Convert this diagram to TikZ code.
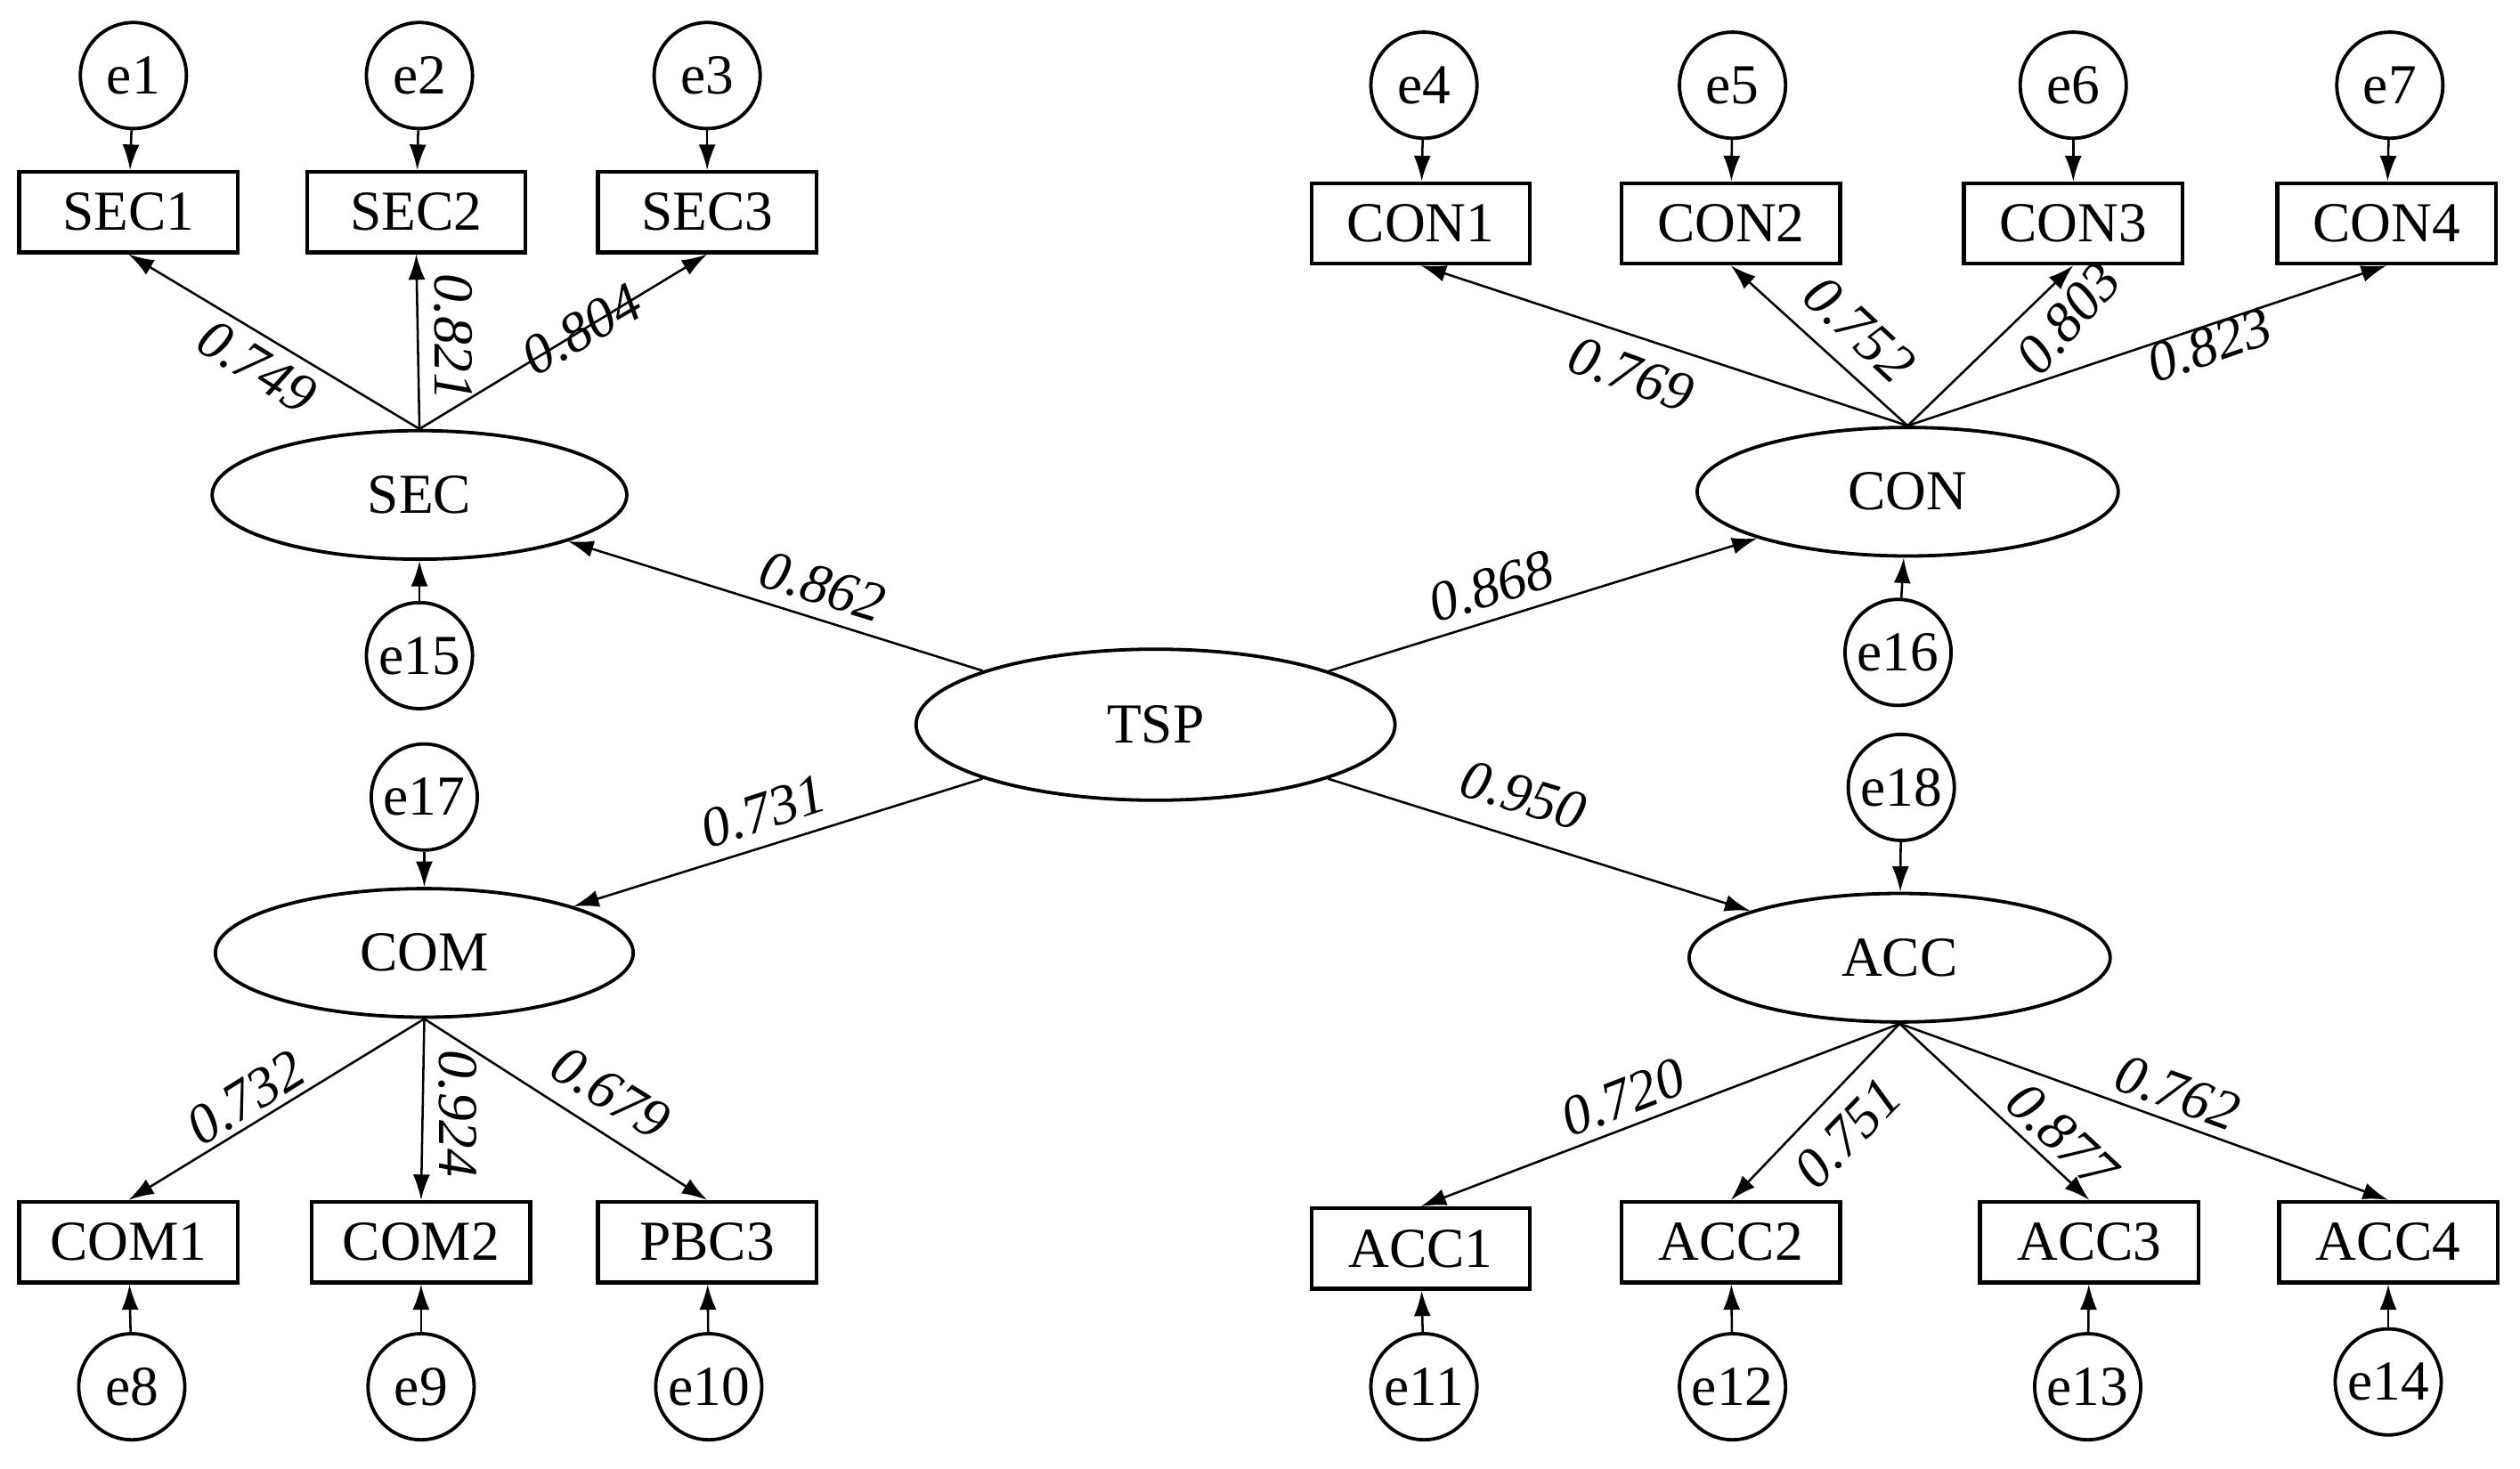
\documentclass[tikz,border=0pt]{standalone}
\usepackage{fontspec}
\setmainfont{Liberation Serif}
\usetikzlibrary{shapes.geometric,arrows.meta}
\begin{document}
\begin{tikzpicture}[x=0.02cm,y=-0.02cm,
  every node/.style={font=\fontsize{20}{24}\selectfont},
  err/.style={circle,draw,line width=1.2pt,minimum size=66*0.02cm,inner sep=0},
  obs/.style={rectangle,draw,line width=1.4pt,minimum width=136*0.02cm,minimum height=50*0.02cm,inner sep=0},
  lat/.style={ellipse,draw,line width=1.2pt,minimum width=258*0.02cm,minimum height=80*0.02cm,inner sep=0},
  arr/.style={-{Latex[length=9pt,width=6pt]},line width=0.8pt},
  lab/.style={font=\fontsize{20}{24}\selectfont\itshape,inner sep=1pt}]
\useasboundingbox (0,0) rectangle (1568,914);
% latents
\node[lat] (SEC) at (261,308) {SEC};
\node[lat,minimum width=262*0.02cm] (CON) at (1187,306) {CON};
\node[lat,minimum width=298*0.02cm,minimum height=94*0.02cm] (TSP) at (719,451) {TSP};
\node[lat,minimum width=260*0.02cm] (COM) at (264,593) {COM};
\node[lat,minimum width=262*0.02cm] (ACC) at (1182,596) {ACC};
% observed
\node[obs] (SEC1) at (80,132) {SEC1};
\node[obs] (SEC2) at (259,132) {SEC2};
\node[obs] (SEC3) at (440,132) {SEC3};
\node[obs] (CON1) at (884,139) {CON1};
\node[obs] (CON2) at (1077,139) {CON2};
\node[obs] (CON3) at (1290,139) {CON3};
\node[obs] (CON4) at (1485,139) {CON4};
\node[obs] (COM1) at (80,773) {COM1};
\node[obs] (COM2) at (262,773) {COM2};
\node[obs] (PBC3) at (440,773) {PBC3};
\node[obs] (ACC1) at (884,777) {ACC1};
\node[obs] (ACC2) at (1077,773) {ACC2};
\node[obs] (ACC3) at (1300,773) {ACC3};
\node[obs] (ACC4) at (1486,773) {ACC4};
% errors
\foreach \n/\x/\y in {e1/83/47,e2/261/47,e3/440/47,e4/886/53,e5/1078/53,e6/1290/53,e7/1487/53,
  e15/261/408,e16/1181/406,e17/264/496,e18/1183/490,
  e8/82/863,e9/262/863,e10/441/863,e11/886/863,e12/1078/863,e13/1299/863,e14/1486/860}
  \node[err] (\n) at (\x,\y) {\n};
% error arrows
\foreach \a/\b in {e1/SEC1,e2/SEC2,e3/SEC3,e4/CON1,e5/CON2,e6/CON3,e7/CON4,e15/SEC,e16/CON,e17/COM,e18/ACC,
  e8/COM1,e9/COM2,e10/PBC3,e11/ACC1,e12/ACC2,e13/ACC3,e14/ACC4}
  \draw[arr] (\a) -- (\b);
% loadings
\foreach \b in {SEC1,SEC2,SEC3} \draw[arr] (SEC.north) -- (\b.south);
\foreach \b in {CON1,CON2,CON3,CON4} \draw[arr] (CON.north) -- (\b.south);
\foreach \b in {COM1,COM2,PBC3} \draw[arr] (COM.south) -- (\b.north);
\foreach \b in {ACC1,ACC2,ACC3,ACC4} \draw[arr] (ACC.south) -- (\b.north);
\foreach \b in {SEC,CON,COM,ACC} \draw[arr] (TSP) -- (\b);
% labels
\node[lab,rotate=-32] at (160,228) {0.749};
\node[lab,rotate=-90] at (282,210) {0.821};
\node[lab,rotate=30] at (362,205) {0.804};
\node[lab,rotate=-20] at (1015,233) {0.769};
\node[lab,rotate=-43] at (1157,205) {0.752};
\node[lab,rotate=49] at (1287,198) {0.803};
\node[lab,rotate=19] at (1375,215) {0.823};
\node[lab,rotate=-17] at (512,365) {0.862};
\node[lab,rotate=17] at (928,365) {0.868};
\node[lab,rotate=18] at (475,505) {0.731};
\node[lab,rotate=-17] at (948,495) {0.950};
\node[lab,rotate=32] at (153,683) {0.732};
\node[lab,rotate=-90] at (285,693) {0.924};
\node[lab,rotate=-32] at (380,680) {0.679};
\node[lab,rotate=21] at (1010,683) {0.720};
\node[lab,rotate=46] at (1150,705) {0.751};
\node[lab,rotate=-43] at (1283,707) {0.877};
\node[lab,rotate=-20] at (1355,680) {0.762};
\end{tikzpicture}
\end{document}
